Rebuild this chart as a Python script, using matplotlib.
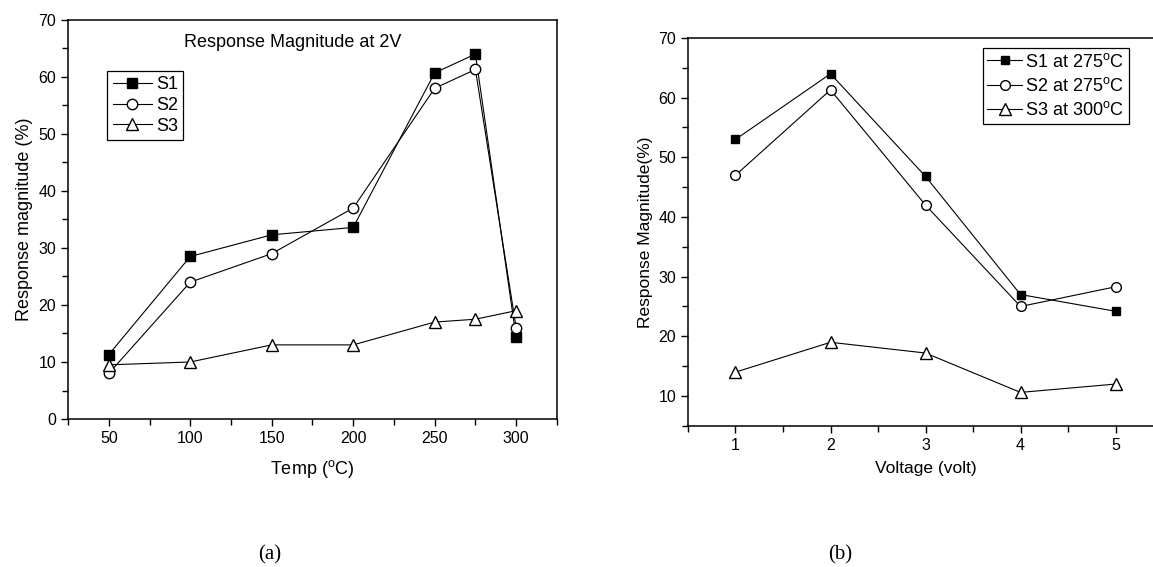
import matplotlib
matplotlib.use('Agg')
import matplotlib.pyplot as plt
from matplotlib.ticker import MultipleLocator

plt.rcParams['font.family'] = ['Liberation Sans', 'DejaVu Sans']
plt.rcParams['mathtext.default'] = 'regular'

# (a) response vs temperature at 2 V
temp = [50, 100, 150, 200, 250, 275, 300]
s1_temp = [11.3, 28.5, 32.3, 33.6, 60.7, 64.0, 14.3]
s2_temp = [8.0, 24.0, 29.0, 37.0, 58.0, 61.3, 16.0]
s3_temp = [9.5, 10.0, 13.0, 13.0, 17.0, 17.5, 19.0]

# (b) response vs voltage
volt = [1, 2, 3, 4, 5]
s1_volt = [53.0, 64.0, 46.8, 27.0, 24.2]
s2_volt = [47.0, 61.3, 42.0, 25.0, 28.3]
s3_volt = [14.0, 19.0, 17.2, 10.6, 12.0]

labels_a = ['S1', 'S2', 'S3']
labels_b = ['S1 at 275$^{o}$C', 'S2 at 275$^{o}$C', 'S3 at 300$^{o}$C']

styles = [dict(marker='s', mfc='black', mec='black', ms=6.5),
          dict(marker='o', mfc='white', mec='black', ms=7.5),
          dict(marker='^', mfc='white', mec='black', ms=8.5)]

fig = plt.figure(figsize=(11.53, 5.67), dpi=100)
ax1 = fig.add_axes([0.059, 0.261, 0.424, 0.704])
ax2 = fig.add_axes([0.5967, 0.249, 0.412, 0.684])


def style_axis(ax):
    for sp in ax.spines.values():
        sp.set_linewidth(1.1)
    ax.tick_params(which='both', direction='out', top=False, right=False,
                   labelsize=11.5, width=1)
    ax.tick_params(which='major', length=5)
    ax.tick_params(which='minor', length=4)


for ys, lab, st in zip([s1_temp, s2_temp, s3_temp], labels_a, styles):
    ax1.plot(temp, ys, color='black', lw=0.8, label=lab, **st)
ax1.set_xlim(25, 325)
ax1.set_ylim(0, 70)
ax1.xaxis.set_major_locator(MultipleLocator(50))
ax1.xaxis.set_minor_locator(MultipleLocator(25))
ax1.yaxis.set_major_locator(MultipleLocator(10))
ax1.yaxis.set_minor_locator(MultipleLocator(5))
style_axis(ax1)
ax1.set_xlabel('Temp ($^{o}$C)', fontsize=13, labelpad=9)
ax1.set_ylabel('Response magnitude (%)', fontsize=13, labelpad=4)
ax1.text(0.46, 0.942, 'Response Magnitude at 2V', transform=ax1.transAxes,
         ha='center', va='center', fontsize=13)
leg1 = ax1.legend(loc='upper left', bbox_to_anchor=(0.08, 0.872),
                  borderaxespad=0, fancybox=False, edgecolor='black',
                  fontsize=13, handlelength=2.2, handletextpad=0.2,
                  labelspacing=0.2, borderpad=0.3, framealpha=1)
leg1.get_frame().set_linewidth(0.9)

for ys, lab, st in zip([s1_volt, s2_volt, s3_volt], labels_b, styles):
    st2 = dict(st)
    st2['ms'] = st['ms'] - 0.5
    ax2.plot(volt, ys, color='black', lw=0.8, label=lab, **st2)
ax2.set_xlim(0.5, 5.5)
ax2.set_ylim(5, 70)
ax2.xaxis.set_major_locator(MultipleLocator(1))
ax2.xaxis.set_minor_locator(MultipleLocator(0.5))
ax2.yaxis.set_major_locator(MultipleLocator(10))
ax2.yaxis.set_minor_locator(MultipleLocator(5))
style_axis(ax2)
ax2.set_xlabel('Voltage (volt)', fontsize=12.5, labelpad=6)
ax2.set_ylabel('Response Magnitude(%)', fontsize=12.5, labelpad=4)
leg2 = ax2.legend(loc='upper right', bbox_to_anchor=(0.928, 0.974),
                  borderaxespad=0, fancybox=False, edgecolor='black',
                  fontsize=13, handlelength=1.9, handletextpad=0.2,
                  labelspacing=0.35, borderpad=0.25, framealpha=1)
leg2.get_frame().set_linewidth(0.9)

fig.text(270 / 1153, 1 - 555 / 567, '(a)', family='Liberation Serif',
         fontsize=15, ha='center', va='center')
fig.text(840 / 1153, 1 - 555 / 567, '(b)', family='Liberation Serif',
         fontsize=15, ha='center', va='center')

fig.savefig('out.png', dpi=100)
